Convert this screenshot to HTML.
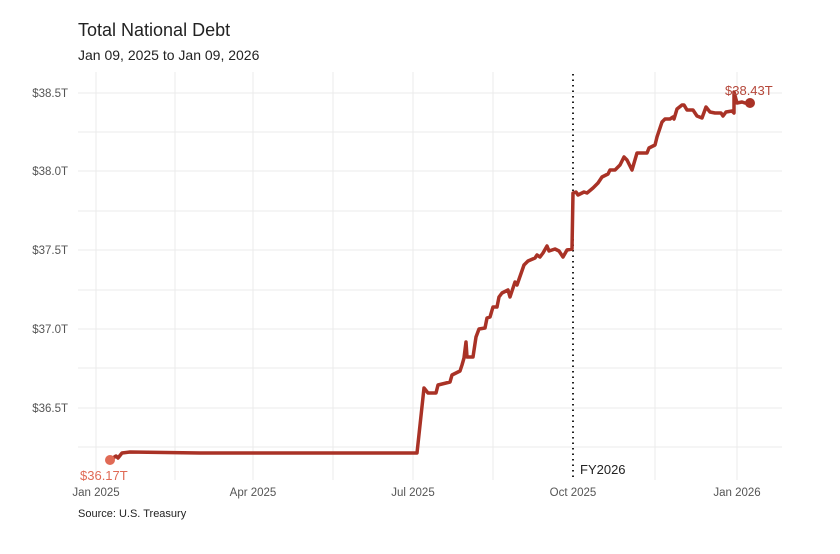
<!DOCTYPE html><html><head><style>body{margin:0;background:#fff;font-family:"Liberation Sans",sans-serif}</style></head><body>
<svg width="840" height="549" xmlns="http://www.w3.org/2000/svg" font-family="Liberation Sans, sans-serif">
<rect width="840" height="549" fill="#fff"/>
<text x="78" y="36" font-size="18" fill="#222">Total National Debt</text>
<text x="78" y="60" font-size="14" fill="#222">Jan 09, 2025 to Jan 09, 2026</text>
<g stroke="#ebebeb" stroke-width="1">
<line x1="78" x2="782" y1="93" y2="93"/><line x1="78" x2="782" y1="132" y2="132"/><line x1="78" x2="782" y1="171" y2="171"/><line x1="78" x2="782" y1="211" y2="211"/><line x1="78" x2="782" y1="250" y2="250"/><line x1="78" x2="782" y1="290" y2="290"/><line x1="78" x2="782" y1="329" y2="329"/><line x1="78" x2="782" y1="368" y2="368"/><line x1="78" x2="782" y1="408" y2="408"/><line x1="78" x2="782" y1="447" y2="447"/>
<line y1="72" y2="480" x1="96" x2="96"/><line y1="72" y2="480" x1="175" x2="175"/><line y1="72" y2="480" x1="253" x2="253"/><line y1="72" y2="480" x1="333" x2="333"/><line y1="72" y2="480" x1="413" x2="413"/><line y1="72" y2="480" x1="493" x2="493"/><line y1="72" y2="480" x1="655" x2="655"/><line y1="72" y2="480" x1="737" x2="737"/>
</g>
<g font-size="11.5" fill="#555" text-anchor="end">
<text x="68" y="97">$38.5T</text><text x="68" y="175">$38.0T</text><text x="68" y="254">$37.5T</text><text x="68" y="333">$37.0T</text><text x="68" y="412">$36.5T</text>
</g>
<g font-size="11.5" fill="#555" text-anchor="middle">
<text x="96" y="496">Jan 2025</text><text x="253" y="496">Apr 2025</text><text x="413" y="496">Jul 2025</text><text x="573" y="496">Oct 2025</text><text x="737" y="496">Jan 2026</text>
</g>
<line x1="573" x2="573" y1="74" y2="480" stroke="#222" stroke-width="2" stroke-dasharray="1.5,4"/>
<text x="580" y="474" font-size="13" fill="#222">FY2026</text>
<polyline fill="none" stroke="#a93226" stroke-width="3.5" stroke-linejoin="round" points="110,460 116,456 118,458 122,453 130,452 200,453 300,453 400,453 417,453 424,388 428,393 436,393 438,385 450,382 452,375 460,371 462,365 464,358 466,342 467,357 473,357 476,337 479,329 485,328 487,318 490,317 493,307 497,307 499,297 502,293 508,290 510,297 515,282 517,285 524,265 528,261 535,258 537,255 540,257 543,253 547,246 549,251 555,249 559,251 563,257 567,250 572,249 573,193 576,192 578,195 584,192 587,193 593,188 598,183 602,177 608,174 610,170 615,170 620,165 624,157 627,160 632,170 637,153 647,153 649,148 655,145 657,137 662,122 665,119 670,119 673,117 674,119 677,109 682,105 684,105 687,110 693,110 697,116 702,118 706,107 710,112 715,113 721,113 723,116 726,112 732,111 734,113 734,92 737,103 742,102 745,103 750,103"/>
<circle cx="110" cy="460" r="5" fill="#e06a55"/>
<circle cx="750" cy="103" r="5" fill="#a93226"/>
<text x="80" y="480" font-size="13" fill="#e06a55">$36.17T</text>
<text x="725" y="95" font-size="13" fill="#b5473a">$38.43T</text>
<text x="78" y="517" font-size="11" fill="#222">Source: U.S. Treasury</text>
</svg></body></html>
